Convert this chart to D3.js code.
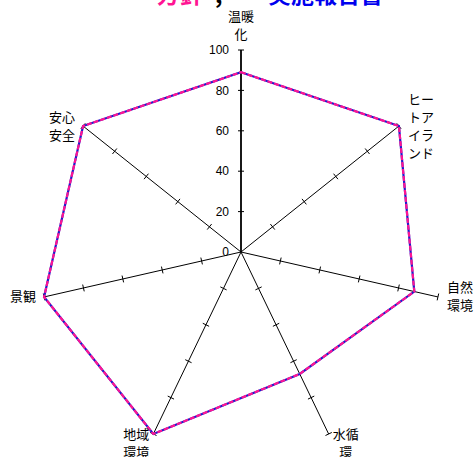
<!DOCTYPE html>
<html lang="ja">
  <head>
    <meta charset="utf-8"/>
    <title>Radar chart</title>
    <script src="https://cdn.jsdelivr.net/npm/d3@7"></script>
    <style>
      body { margin: 0; background: #fff; }
      .num { font-family: "Liberation Sans", Arial, sans-serif; font-size: 12px; fill: #000; }
      .cat { font-family: "Noto Sans CJK JP", sans-serif; font-size: 13px; fill: #000; }
      .title { font-family: "Noto Sans CJK JP", sans-serif; font-size: 23px; font-weight: bold; }
    </style>
  </head>
  <body>
    <div id="chart"></div>
    <script>

      // categories (clockwise from the top)
      var categories = ["温暖化", "ヒートアイランド", "自然環境", "水循環", "地域環境", "景観", "安心安全"];
      // two series, drawn on top of each other
      var seriesBlue = [89, 100, 88, 67, 100, 100, 100];
      var seriesPink = [89, 100, 88, 67, 100, 100, 100];
      // radial tick values
      var tickValues = [0, 20, 40, 60, 80, 100];

      var w = 476, h = 457;
      var cx = 241, cy = 252;

      var svg = d3.select("#chart")
        .append("svg")
        .attr("width", w)
        .attr("height", h)
      ;

      // title, mostly cut off at the top edge
      var title = svg.append("text").attr("class", "title").attr("y", 3);
      title.append("tspan").attr("x", 157).attr("fill", "#ff1493").text("方針");
      title.append("tspan").attr("x", 215).attr("fill", "#000").text(",");
      title.append("tspan").attr("x", 268).attr("fill", "#0000ee").text("実施報告書");

      var r = d3.scaleLinear().domain([0, 100]).range([0, 202]);
      var angle = d3.scaleLinear().domain([0, categories.length]).range([0, 2 * Math.PI]);

      function pt(i, v) {
        var a = angle(i);
        return [cx + r(v) * Math.sin(a), cy - r(v) * Math.cos(a)];
      }

      var g = svg.append("g");

      // axes
      categories.forEach(function(c, i) {
        var end = pt(i, 100);
        g.append("line")
          .attr("x1", cx).attr("y1", cy)
          .attr("x2", end[0]).attr("y2", end[1])
          .attr("stroke", "#000")
          .attr("stroke-width", i == 0 ? 1.8 : 1)
        ;
        // tick marks across each axis
        var a = angle(i);
        var px = Math.cos(a), py = Math.sin(a);
        var tl = i == 0 ? 3 : 3.5;
        tickValues.slice(1).forEach(function(t) {
          var p = pt(i, t);
          g.append("line")
            .attr("x1", p[0] - px * tl).attr("y1", p[1] - py * tl)
            .attr("x2", p[0] + px * tl).attr("y2", p[1] + py * tl)
            .attr("stroke", "#000")
            .attr("stroke-width", 1)
          ;
        });
      });

      // value labels on the top axis
      g.selectAll(".num")
        .data(tickValues)
        .enter()
        .append("text")
        .attr("class", "num")
        .attr("x", cx - 12)
        .attr("y", function(d) { return cy - r(d); })
        .attr("dy", "0.35em")
        .attr("text-anchor", "end")
        .text(function(d) { return d; })
      ;

      // data lines
      var line = d3.line().curve(d3.curveLinearClosed);
      g.append("path")
        .attr("d", line(seriesBlue.map(function(v, i) { return pt(i, v); })))
        .attr("fill", "none")
        .attr("stroke", "#1c1ccc")
        .attr("stroke-width", 2.2)
      ;
      g.append("path")
        .attr("d", line(seriesPink.map(function(v, i) { return pt(i, v); })))
        .attr("fill", "none")
        .attr("stroke", "#ff1493")
        .attr("stroke-width", 2.2)
        .attr("stroke-dasharray", "5,2")
      ;

      // category labels, two characters per line
      var lh = 18, cw = 13;
      categories.forEach(function(c, i) {
        var lines = c.match(/.{1,2}/g);
        var end = pt(i, 100);
        var s = Math.sin(angle(i)), co = Math.cos(angle(i));
        var bw = lines[0].length * cw;
        var x, y0;
        if (Math.abs(s) < 0.1) {
          x = end[0];
          y0 = end[1] - 12 - (lines.length - 1) * lh - 4;
        } else {
          x = s > 0 ? end[0] + (co < -0.8 ? 4 : 9) + bw / 2 : end[0] - (co < -0.8 ? 4 : 8) - bw / 2;
          y0 = co < -0.8 ? end[1] : end[1] - (lines.length - 1) * lh / 2;
        }
        lines.forEach(function(l, j) {
          g.append("text")
            .attr("class", "cat")
            .attr("x", x)
            .attr("y", y0 + j * lh)
            .attr("dy", "0.35em")
            .attr("text-anchor", "middle")
            .text(l)
          ;
        });
      });
    </script>
  </body>
</html>
